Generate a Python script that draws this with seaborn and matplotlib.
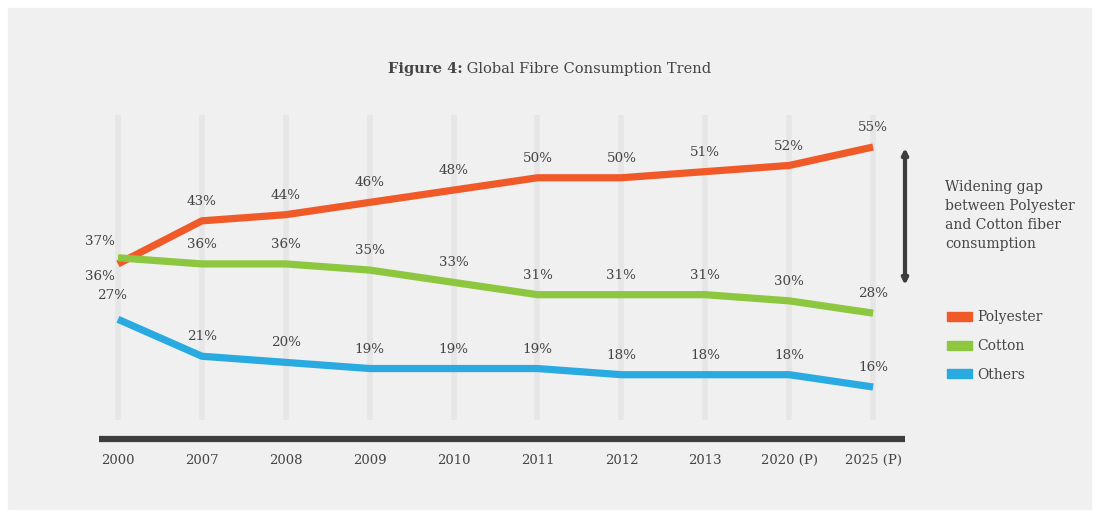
import matplotlib
matplotlib.use("Agg")
import matplotlib.pyplot as plt
import matplotlib.patches as mpatches
import numpy as np
import pandas as pd
import seaborn as sns

years = ["2000", "2007", "2008", "2009", "2010", "2011", "2012", "2013", "2020 (P)", "2025 (P)"]
polyester = [36, 43, 44, 46, 48, 50, 50, 51, 52, 55]
cotton = [37, 36, 36, 35, 33, 31, 31, 31, 30, 28]
others = [27, 21, 20, 19, 19, 19, 18, 18, 18, 16]
series_names = ["Polyester", "Cotton", "Others"]
colors = {"Polyester": "#f05a28", "Cotton": "#8dc63f", "Others": "#29abe2"}

sns.set_style("white")
plt.rcParams["font.family"] = ["DejaVu Serif"]
txt = "#444444"
bg = "#f0f0f0"

long = []
for name, vals in zip(series_names, [polyester, cotton, others]):
    long.append(pd.DataFrame({"x": np.arange(len(years)), "value": vals, "series": name}))
long = pd.concat(long, ignore_index=True)

fig = plt.figure(figsize=(10.99, 5.17), dpi=100, facecolor="white")
fig.patches.append(mpatches.Rectangle((8 / 1099, 8 / 517), 1083 / 1099, 501 / 517,
                                      transform=fig.transFigure, color=bg, zorder=-5))
ax = fig.add_axes([99 / 1099, 1 - 439 / 517, 806 / 1099, 324 / 517])
ax.set_facecolor("none")

# light vertical guide bars
ax.vlines(np.arange(len(years)), 10.6, 60.2, color="#e6e6e6", linewidth=4, zorder=1)

sns.lineplot(data=long, x="x", y="value", hue="series", palette=colors, linewidth=5.2,
             ax=ax, legend=False, zorder=3, solid_capstyle="butt")

ax.set_xlim(-0.226, 9.38)
ax.set_ylim(7.55, 60.2)
ax.axhline(7.55, color="#3d3d3d", linewidth=4.5, zorder=4, clip_on=False,
           solid_capstyle="butt")
for s in ax.spines.values():
    s.set_visible(False)
ax.set_yticks([])
ax.set_xticks(np.arange(len(years)))
ax.set_xticklabels(years, fontsize=9.5, color=txt)
ax.tick_params(axis="x", length=0, pad=11)
ax.set_xlabel("")
ax.set_ylabel("")

# value labels
for name, vals in zip(series_names, [polyester, cotton, others]):
    for i, v in enumerate(vals):
        dx, dy = 0, 14
        if i == 0:
            dx = -13
            if name == "Polyester":
                dy = -9
            elif name == "Cotton":
                dy = 12
            elif name == "Others":
                dx, dy = -4, 17
        ax.annotate(f"{v}%", (i, v), xytext=(dx, dy), textcoords="offset points",
                    ha="center", va="center", fontsize=9.7, color=txt)

# gap arrow and note
ax.annotate("", xy=(905 / 1099, 1 - 148 / 517), xytext=(905 / 1099, 1 - 285 / 517),
            xycoords="figure fraction", textcoords="figure fraction",
            arrowprops=dict(arrowstyle="<|-|>", color="#3d3d3d", lw=3,
                            mutation_scale=8, shrinkA=0, shrinkB=0))
fig.text(945 / 1099, 1 - 180 / 517,
         "Widening gap\nbetween Polyester\nand Cotton fiber\nconsumption",
         ha="left", va="top", fontsize=10, color=txt, linespacing=1.45)

handles = [mpatches.Patch(color=colors[n], label=n) for n in series_names]
leg = fig.legend(handles=handles, loc="upper left", bbox_to_anchor=(934 / 1099, 1 - 298 / 517),
                 frameon=False, fontsize=10, handlelength=1.8, handleheight=0.6,
                 labelspacing=1.05, handletextpad=0.45)
for t in leg.get_texts():
    t.set_color(txt)

# title: bold "Figure 4:" + regular remainder, centred on the figure
fig.canvas.draw()
r = fig.canvas.get_renderer()
t1 = fig.text(0, 1 - 69 / 517, "Figure 4:", fontsize=10.5, fontweight="bold", color=txt, va="center")
t2 = fig.text(0, 1 - 69 / 517, " Global Fibre Consumption Trend", fontsize=10.5, color=txt, va="center")
w1 = t1.get_window_extent(r).width
w2 = t2.get_window_extent(r).width
x0 = (1099 - (w1 + w2)) / 2
t1.set_x(x0 / 1099)
t2.set_x((x0 + w1) / 1099)

fig.savefig("out.png", dpi=100, facecolor="white")
